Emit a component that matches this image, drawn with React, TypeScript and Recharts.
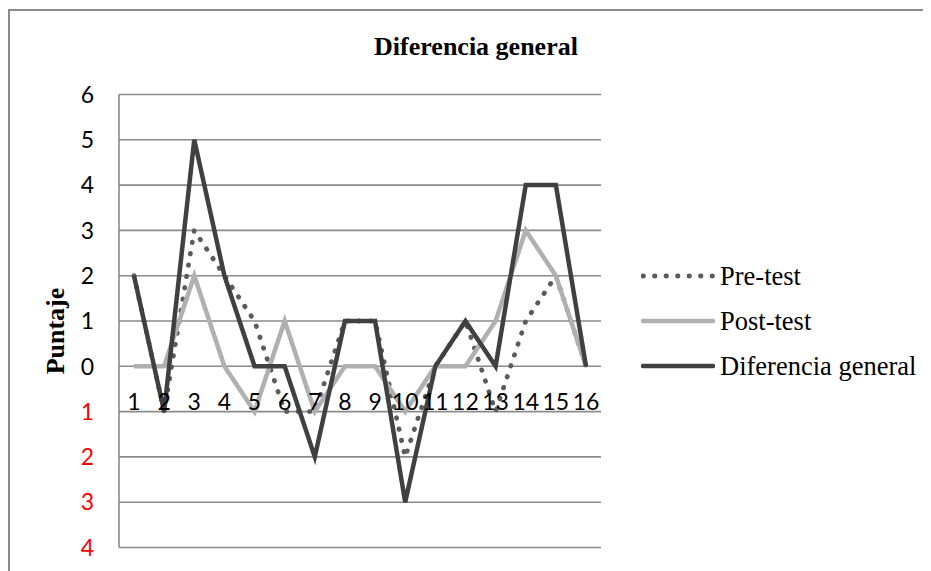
import { CartesianGrid, Legend, Line, LineChart, XAxis, YAxis } from 'recharts'

const categories = ['1', '2', '3', '4', '5', '6', '7', '8', '9', '10', '11', '12', '13', '14', '15', '16']
const preTest = [2, -1, 3, 2, 1, -1, -1, 1, 1, -2, 0, 1, -1, 1, 2, 0]
const postTest = [0, 0, 2, 0, -1, 1, -1, 0, 0, -1, 0, 0, 1, 3, 2, 0]
const diferencia = [2, -1, 5, 2, 0, 0, -2, 1, 1, -3, 0, 1, 0, 4, 4, 0]
const yTicks = [-4, -3, -2, -1, 0, 1, 2, 3, 4, 5, 6]
const seriesOrder = ['pre', 'post', 'dif']

const chartData = categories.map((cat, i) => ({
  cat,
  pre: preTest[i],
  post: postTest[i],
  dif: diferencia[i],
}))

// chart geometry (page coords, chart sits at 0,0)
const W = 931
const H = 571
const PLOT_LEFT = 119
const PLOT_TOP = 94.5
const PLOT_BOTTOM = 547.5
const PLOT_RIGHT = 601
const Y_MIN = -4
const Y_MAX = 6
const ZERO_Y = PLOT_TOP + (Y_MAX / (Y_MAX - Y_MIN)) * (PLOT_BOTTOM - PLOT_TOP)

const GRID = '#8a8a8a'
const NUM_FONT = 'Lato, "Open Sans", sans-serif'
const SERIF = '"Liberation Serif", "Times New Roman", serif'

const seriesStyle: Record<string, { color: string; width: number; dash?: string }> = {
  pre: { color: '#5b5b5b', width: 4.8, dash: '0.5 11' },
  post: { color: '#b0b0b0', width: 4.5 },
  dif: { color: '#404040', width: 4.5 },
}

function YTick({ x, y, payload }: any) {
  const v = Number(payload.value)
  return (
    <text
      x={x}
      y={y}
      dy="0.36em"
      textAnchor="end"
      fill={v < 0 ? '#ff0000' : '#000000'}
      fontFamily={NUM_FONT}
      fontSize={23}
    >
      {Math.abs(v)}
    </text>
  )
}

function XTick({ x, payload }: any) {
  return (
    <text x={x} y={ZERO_Y + 35} dy="0.36em" textAnchor="middle" fill="#000000" fontFamily={NUM_FONT} fontSize={23}>
      {payload.value}
    </text>
  )
}

function LegendContent({ payload }: any) {
  const items = [...(payload || [])].sort(
    (a: any, b: any) => seriesOrder.indexOf(a.dataKey) - seriesOrder.indexOf(b.dataKey),
  )
  return (
    <div>
      {items.map((entry: any) => {
        const s = seriesStyle[entry.dataKey]
        return (
          <div key={entry.dataKey} style={{ display: 'flex', alignItems: 'center', height: 45 }}>
            <svg width={74} height={10}>
              <line
                x1={2}
                x2={72}
                y1={5}
                y2={5}
                stroke={s.color}
                strokeWidth={s.width}
                strokeDasharray={s.dash}
                strokeLinecap="round"
              />
            </svg>
            <span style={{ marginLeft: 5, fontFamily: SERIF, fontSize: 26.5, color: '#000', whiteSpace: 'nowrap' }}>
              {entry.value}
            </span>
          </div>
        )
      })}
    </div>
  )
}

function PuntajeLabel({ viewBox }: any) {
  const x = viewBox.x + 64
  const y = viewBox.y + viewBox.height / 2 + 10
  return (
    <text
      x={x}
      y={y}
      transform={`rotate(-90, ${x}, ${y})`}
      textAnchor="middle"
      fontFamily={SERIF}
      fontWeight="bold"
      fontSize={26}
      fill="#000"
    >
      Puntaje
    </text>
  )
}

export default function App() {
  return (
    <div style={{ position: 'relative', width: W - 8, height: H - 8, overflow: 'hidden' }}>
      <div
        style={{
          position: 'absolute',
          left: 0,
          top: 1,
          width: W,
          height: H,
          borderTop: `2px solid ${GRID}`,
          borderLeft: `2px solid ${GRID}`,
        }}
      />
      <div style={{ position: 'absolute', left: -8, top: -8 }}>
        <LineChart
          width={W}
          height={H}
          data={chartData}
          margin={{ top: PLOT_TOP, right: W - PLOT_RIGHT, bottom: H - PLOT_BOTTOM - 1, left: 0 }}
        >
          <CartesianGrid vertical={false} stroke={GRID} strokeWidth={1.6} />
          <XAxis
            dataKey="cat"
            height={1}
            axisLine={false}
            tickLine={false}
            interval={0}
            padding={{ left: 15, right: 15 }}
            tick={<XTick />}
          />
          <YAxis
            width={PLOT_LEFT}
            domain={[Y_MIN, Y_MAX]}
            ticks={yTicks}
            interval={0}
            axisLine={{ stroke: GRID, strokeWidth: 1.6 }}
            tickLine={false}
            tickSize={0}
            tickMargin={25}
            tick={<YTick />}
            label={<PuntajeLabel />}
          />
          <Legend
            layout="vertical"
            align="center"
            verticalAlign="middle"
            wrapperStyle={{ left: 641, top: 253.5, width: 290 }}
            content={<LegendContent />}
          />
          <Line
            dataKey="pre"
            name="Pre-test"
            stroke={seriesStyle.pre.color}
            strokeWidth={seriesStyle.pre.width}
            strokeDasharray={seriesStyle.pre.dash}
            strokeLinecap="round"
            dot={false}
            activeDot={false}
            type="linear"
            isAnimationActive={false}
          />
          <Line
            dataKey="post"
            name="Post-test"
            stroke={seriesStyle.post.color}
            strokeWidth={seriesStyle.post.width}
            dot={false}
            activeDot={false}
            type="linear"
            isAnimationActive={false}
          />
          <Line
            dataKey="dif"
            name="Diferencia general"
            stroke={seriesStyle.dif.color}
            strokeWidth={seriesStyle.dif.width}
            dot={false}
            activeDot={false}
            type="linear"
            isAnimationActive={false}
          />
        </LineChart>
      </div>
      <div
        style={{
          position: 'absolute',
          left: 468,
          top: 24,
          transform: 'translateX(-50%)',
          fontFamily: SERIF,
          fontWeight: 'bold',
          fontSize: 26,
          whiteSpace: 'nowrap',
          color: '#000',
        }}
      >
        Diferencia general
      </div>
    </div>
  )
}
